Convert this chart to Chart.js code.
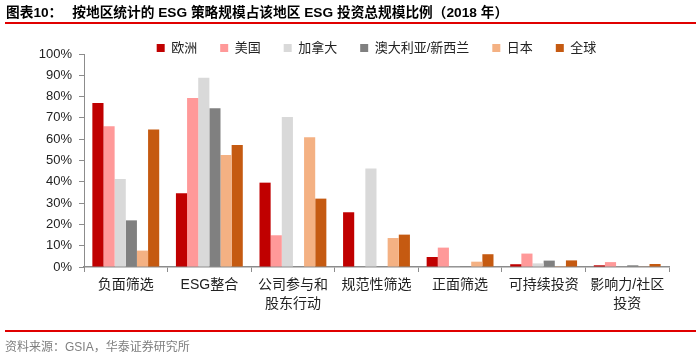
<!DOCTYPE html>
<html>
<head>
<meta charset="utf-8">
<script src="https://cdn.jsdelivr.net/npm/chart.js@4/dist/chart.umd.min.js"></script>
<style>
  html, body { margin: 0; padding: 0; background: #fff; }
  #wrap { position: relative; width: 700px; height: 357px; overflow: hidden; }
  #c { position: absolute; left: 0; top: 0; }
  .title { position: absolute; left: 6px; top: 3px; font: bold 13.7px "Liberation Sans", "Noto Sans CJK SC", sans-serif; color: #000; white-space: nowrap; line-height: 20px; }
  .title .lab { margin-right: 10px; }
  .rule { position: absolute; left: 5px; width: 691px; height: 2px; background: #e00000; }
  .src { position: absolute; left: 5px; top: 338px; font: 12px "Liberation Sans", "Noto Sans CJK SC", sans-serif; color: #7f7f7f; white-space: nowrap; line-height: 18px; }
</style>
</head>
<body>
<div id="wrap">
  <canvas id="c" width="700" height="357"></canvas>
  <div class="title"><span class="lab">图表10：</span>按地区统计的 ESG 策略规模占该地区 ESG 投资总规模比例（2018 年）</div>
  <div class="rule" style="top:22px"></div>
  <div class="rule" style="top:330px"></div>
  <div class="src">资料来源：GSIA，华泰证券研究所</div>
</div>
<script>
const categories = [['负面筛选'], ['ESG整合'], ['公司参与和', '股东行动'], ['规范性筛选'], ['正面筛选'], ['可持续投资'], ['影响力/社区', '投资']];
const seriesNames = ['欧洲', '美国', '加拿大', '澳大利亚/新西兰', '日本', '全球'];
const europe    = [77.0, 34.6, 39.6, 25.7, 4.7, 1.3, 0.8];
const usa       = [66.1, 79.3, 14.9, 0,    9.1, 6.3, 2.3];
const canada    = [41.3, 88.9, 70.4, 46.3, 0.3, 1.7, 0.2];
const australia = [21.9, 74.5, 0,    0,    0.3, 3.0, 0.8];
const japan     = [7.7,  52.6, 60.9, 13.6, 2.5, 0.4, 0.3];
const world     = [64.6, 57.3, 32.1, 15.2, 6.0, 3.1, 1.4];
const yTicks = [0, 10, 20, 30, 40, 50, 60, 70, 80, 90, 100];

const colors = ['#C00000', '#FF9999', '#D9D9D9', '#808080', '#F4B183', '#C55A11'];
const allData = [europe, usa, canada, australia, japan, world];

const FONT = '"Liberation Sans", "Noto Sans CJK SC", sans-serif';

new Chart(document.getElementById('c'), {
  type: 'bar',
  data: {
    labels: categories,
    datasets: seriesNames.map((n, i) => ({
      label: n,
      data: allData[i],
      backgroundColor: colors[i],
      borderWidth: 0,
      categoryPercentage: 0.8,
      barPercentage: 1.0
    }))
  },
  options: {
    responsive: false,
    animation: false,
    devicePixelRatio: 1,
    layout: { padding: { top: 18.5, right: 31, bottom: 0, left: 0 } },
    plugins: {
      legend: {
        position: 'top',
        fullSize: false,
        maxHeight: 35.5,
        labels: {
          boxWidth: 8, boxHeight: 8, padding: 23,
          color: '#222',
          font: { size: 13, family: FONT }
        }
      },
      tooltip: { enabled: false }
    },
    scales: {
      x: {
        offset: true,
        grid: { display: true, drawOnChartArea: false, offset: true, tickLength: 5, color: '#8c8c8c' },
        border: { display: true, color: '#8c8c8c', width: 1.5 },
        ticks: { color: '#222', padding: 3, maxRotation: 0, autoSkip: false, font: { size: 14, family: FONT, lineHeight: 1.38 } },
        afterFit: s => { s.height = 90; }
      },
      y: {
        min: 0, max: 100,
        afterBuildTicks: s => { s.ticks = yTicks.map(v => ({ value: v })); },
        grid: { display: true, drawOnChartArea: false, tickLength: 5, color: '#8c8c8c' },
        border: { display: true, color: '#8c8c8c', width: 1 },
        ticks: { color: '#222', padding: 7, font: { size: 13, family: FONT }, callback: v => v + '%' },
        afterFit: s => { s.width = 84; }
      }
    }
  }
});
</script>
</body>
</html>
